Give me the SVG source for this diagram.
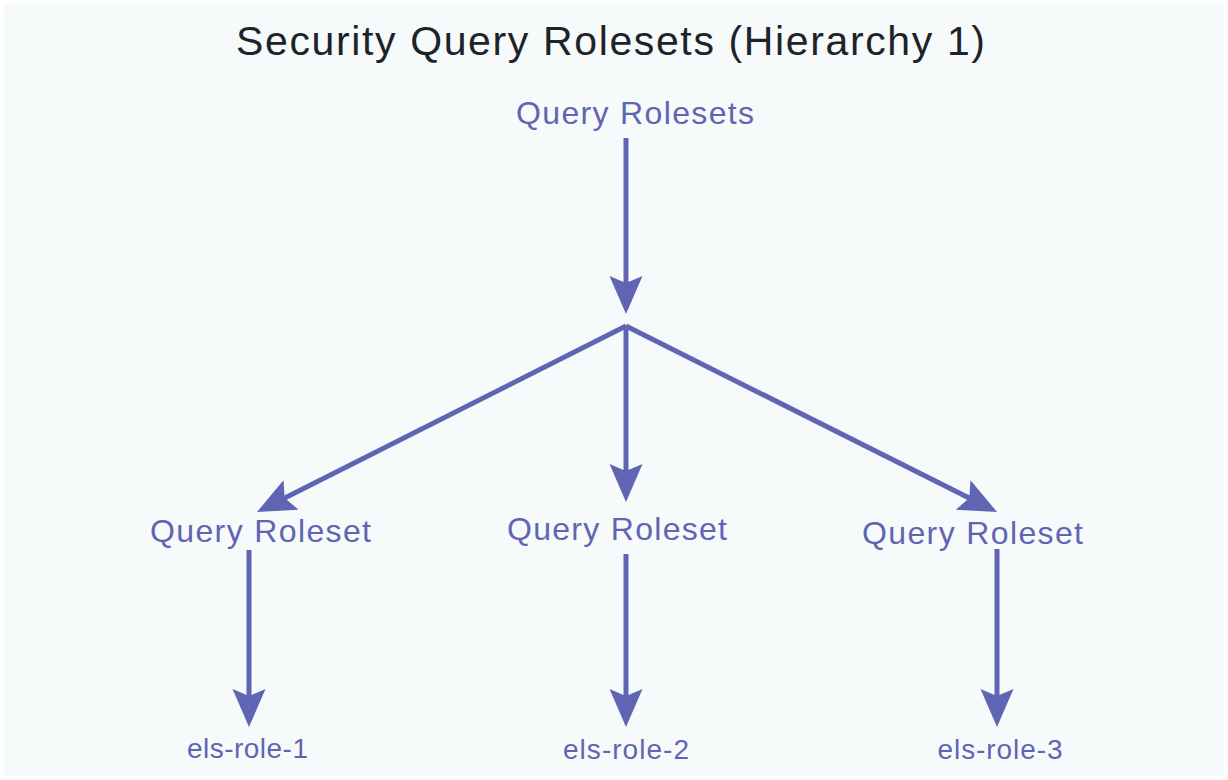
<svg xmlns="http://www.w3.org/2000/svg" width="1228" height="780" viewBox="0 0 1228 780">
  <style>
    .title { font-family: "Liberation Sans", Arial, sans-serif; font-size: 41px; fill: #1d2329; }
    .lbl { font-family: "Liberation Sans", Arial, sans-serif; font-size: 32px; fill: #5f65b3; }
    .leaf { font-family: "Liberation Sans", Arial, sans-serif; font-size: 28px; fill: #5f65b3; }
    .edge { stroke: #5f65b3; stroke-width: 5; fill: none; marker-end: url(#arrow); }
  </style>
  <defs>
    <marker id="arrow" viewBox="0 -17 40 34" markerWidth="40" markerHeight="34" markerUnits="userSpaceOnUse" refX="28" refY="0" orient="auto">
      <path d="M38,0 L0,-16.5 L7,0 L0,16.5 Z" fill="#5f65b3"/>
    </marker>
  </defs>
  <rect x="0" y="0" width="1228" height="780" fill="#ffffff"/>
  <rect x="4" y="4" width="1220" height="772" fill="#f7fafb"/>
  <text class="title" x="610.5" y="55" text-anchor="middle" textLength="749" lengthAdjust="spacing">Security Query Rolesets (Hierarchy 1)</text>

  <g id="connectors">
    <line class="edge" x1="626" y1="138" x2="626" y2="304"/>
    <line class="edge" x1="626" y1="326" x2="265.9" y2="507.5"/>
    <line class="edge" x1="626" y1="326" x2="626" y2="492"/>
    <line class="edge" x1="626" y1="326" x2="988.1" y2="507.5"/>
    <line class="edge" x1="249" y1="550" x2="249" y2="717"/>
    <line class="edge" x1="626" y1="554" x2="626" y2="717"/>
    <line class="edge" x1="997" y1="549" x2="997" y2="717"/>
  </g>

  <g id="node-root">
    <text class="lbl" x="635" y="124" text-anchor="middle" textLength="238" lengthAdjust="spacing">Query Rolesets</text>
  </g>
  <g id="node-roleset-1">
    <text class="lbl" x="260.5" y="542" text-anchor="middle" textLength="221" lengthAdjust="spacing">Query Roleset</text>
  </g>
  <g id="node-roleset-2">
    <text class="lbl" x="617" y="540" text-anchor="middle" textLength="220" lengthAdjust="spacing">Query Roleset</text>
  </g>
  <g id="node-roleset-3">
    <text class="lbl" x="972.5" y="544" text-anchor="middle" textLength="221" lengthAdjust="spacing">Query Roleset</text>
  </g>
  <g id="node-els-role-1">
    <text class="leaf" x="247.5" y="758" text-anchor="middle" textLength="121" lengthAdjust="spacing">els-role-1</text>
  </g>
  <g id="node-els-role-2">
    <text class="leaf" x="626" y="759" text-anchor="middle" textLength="126" lengthAdjust="spacing">els-role-2</text>
  </g>
  <g id="node-els-role-3">
    <text class="leaf" x="1000" y="759" text-anchor="middle" textLength="125" lengthAdjust="spacing">els-role-3</text>
  </g>
</svg>
